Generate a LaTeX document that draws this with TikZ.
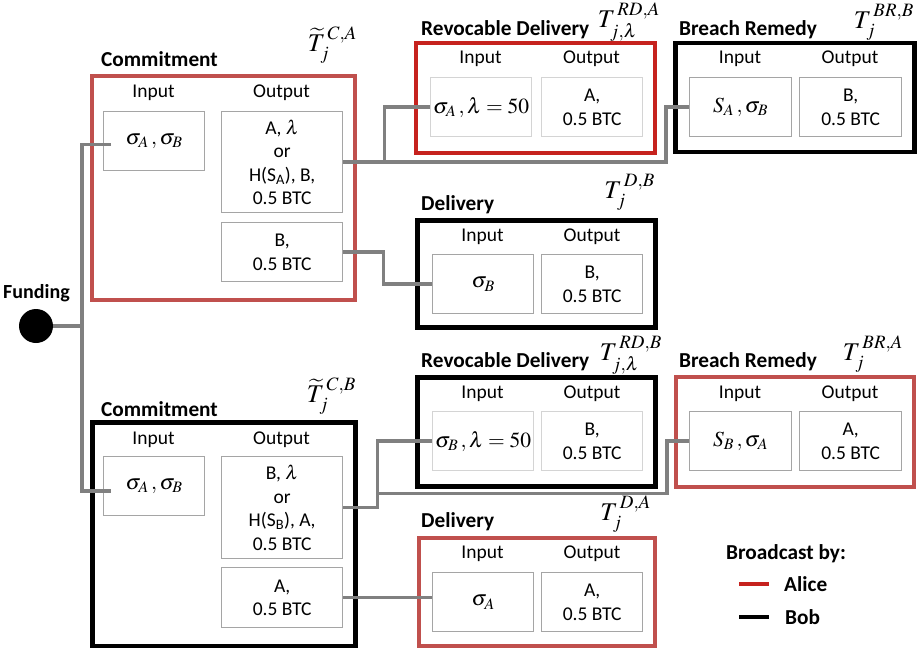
\documentclass[tikz,border=0pt]{standalone}
\usepackage{mathptmx}
\usepackage[no-math]{fontspec}
\setmainfont{Carlito}
\usetikzlibrary{calc}
\definecolor{redA}{RGB}{198,34,30}
\definecolor{redB}{RGB}{192,80,77}
\definecolor{boxgray}{RGB}{165,165,165}
\definecolor{lightbox}{RGB}{212,212,212}
\definecolor{conngray}{RGB}{128,128,128}
\tikzset{
  outer/.style={draw, line width=4pt, inner sep=0pt, anchor=north west},
  blk/.style={draw=black, line width=4.5pt},
  inbox/.style={draw=boxgray, line width=1.3pt, inner sep=0pt, anchor=north west,
    minimum width=101pt, minimum height=59pt, align=center,
    font=\fontsize{19.5}{23.5}\selectfont},
  ltbox/.style={inbox, draw=lightbox},
  mathin/.style={font=\fontsize{21.5}{25}\selectfont},
  hdr/.style={anchor=base, inner sep=0pt, font=\fontsize{19.5}{23.5}\selectfont},
  ttl/.style={anchor=base west, inner sep=0pt, font=\bfseries\fontsize{21.3}{25}\selectfont},
  tlab/.style={anchor=east, inner sep=0pt, font=\fontsize{25.5}{29}\selectfont},
  conn/.style={draw=conngray, line width=3.5pt},
  legline/.style={line width=4pt},
}
\begin{document}
\begin{tikzpicture}[x=1pt,y=-1pt]
\useasboundingbox (0,0) rectangle (917,647);

% ---------- Funding ----------
\node[circle, fill=black, minimum size=34pt, inner sep=0pt] (fund) at (36,326) {};
\node[ttl, anchor=base, font=\bfseries\fontsize{20}{24}\selectfont] (fundl) at (36.5,298) {Funding};

% ---------- Commitment (Alice) ----------
\node[outer, draw=redB, minimum width=263pt, minimum height=224pt] (cA) at (90,74) {};
\node[ttl] (cAt) at (101,67) {Commitment};
\node[tlab] (tCA) at (357,45) {$\widetilde{T}_j^{\,C,A}$};
\node[hdr] (cAhi) at (153.5,98) {Input};
\node[hdr] (cAho) at (281.5,98) {Output};
\node[inbox, mathin] (cAin) at (103,111) {$\sigma_{A}\,,\sigma_{B}$};
\node[inbox, minimum width=121pt, minimum height=101pt] (cAo1) at (221,111)
  {A, $\lambda$\\or\\H(S\textsubscript{A}), B,\\0.5 BTC};
\node[inbox, minimum width=121pt, minimum height=59pt] (cAo2) at (221,222) {B,\\0.5 BTC};

% ---------- Commitment (Bob) ----------
\node[outer, blk, minimum width=263pt, minimum height=224pt] (cB) at (90,420) {};
\node[ttl] (cBt) at (101,416) {Commitment};
\node[tlab] (tCB) at (356,396) {$\widetilde{T}_j^{\,C,B}$};
\node[hdr] (cBhi) at (153.5,444) {Input};
\node[hdr] (cBho) at (281.5,444) {Output};
\node[inbox, mathin] (cBin) at (103,456) {$\sigma_{A}\,,\sigma_{B}$};
\node[inbox, minimum width=121pt, minimum height=102pt] (cBo1) at (221,456)
  {B, $\lambda$\\or\\H(S\textsubscript{B}), A,\\0.5 BTC};
\node[inbox, minimum width=121pt, minimum height=60pt] (cBo2) at (221,567) {A,\\0.5 BTC};

% ---------- Revocable Delivery (Alice) ----------
\node[outer, draw=redA, minimum width=239pt, minimum height=110pt] (rdA) at (414,41) {};
\node[ttl] (rdAt) at (421,36) {Revocable Delivery};
\node[tlab] (tRDA) at (660,22) {$T_{j,\lambda}^{\,RD,A}$};
\node[hdr] (rdAhi) at (480.5,64) {Input};
\node[hdr] (rdAho) at (591.5,64) {Output};
\node[ltbox, mathin] (rdAin) at (430,77) {$\sigma_{A}\,,\lambda=50$};
\node[ltbox] (rdAout) at (541,77) {A,\\0.5 BTC};

% ---------- Breach Remedy (Bob) ----------
\node[outer, blk, minimum width=239pt, minimum height=109pt] (brB) at (673,41) {};
\node[ttl] (brBt) at (679,36) {Breach Remedy};
\node[tlab] (tBRB) at (914,22) {$T_j^{\,BR,B}$};
\node[hdr] (brBhi) at (740,64) {Input};
\node[hdr] (brBho) at (850,64) {Output};
\node[inbox, mathin, minimum width=102pt] (brBin) at (689,77) {$S_{A}\,,\sigma_{B}$};
\node[inbox, minimum width=102pt] (brBout) at (799,77) {B,\\0.5 BTC};

% ---------- Delivery (Bob) ----------
\node[outer, blk, minimum width=238pt, minimum height=107pt] (dB) at (415,218) {};
\node[ttl] (dBt) at (421,210) {Delivery};
\node[tlab] (tDB) at (655,192) {$T_j^{\,D,B}$};
\node[hdr] (dBhi) at (482.5,241) {Input};
\node[hdr] (dBho) at (592,241) {Output};
\node[inbox, mathin] (dBin) at (432,254) {$\sigma_{B}$};
\node[inbox] (dBout) at (541,254) {B,\\0.5 BTC};

% ---------- Revocable Delivery (Bob) ----------
\node[outer, blk, minimum width=238pt, minimum height=109pt] (rdB) at (415,375) {};
\node[ttl] (rdBt) at (421,367) {Revocable Delivery};
\node[tlab] (tRDB) at (662,355) {$T_{j,\lambda}^{\,RD,B}$};
\node[hdr] (rdBhi) at (482.5,398.5) {Input};
\node[hdr] (rdBho) at (592,398.5) {Output};
\node[ltbox, mathin] (rdBin) at (432,411) {$\sigma_{B}\,,\lambda=50$};
\node[ltbox] (rdBout) at (541,411) {B,\\0.5 BTC};

% ---------- Breach Remedy (Alice) ----------
\node[outer, draw=redB, minimum width=238pt, minimum height=110pt] (brA) at (674,375) {};
\node[ttl] (brAt) at (679,367) {Breach Remedy};
\node[tlab] (tBRA) at (903,354) {$T_j^{\,BR,A}$};
\node[hdr] (brAhi) at (740,398.5) {Input};
\node[hdr] (brAho) at (850,398.5) {Output};
\node[inbox, mathin, minimum width=102pt] (brAin) at (689,411) {$S_{B}\,,\sigma_{A}$};
\node[inbox, minimum width=102pt] (brAout) at (799,411) {A,\\0.5 BTC};

% ---------- Delivery (Alice) ----------
\node[outer, draw=redB, minimum width=236pt, minimum height=108pt] (dA) at (417,536) {};
\node[ttl] (dAt) at (421,527) {Delivery};
\node[tlab] (tDA) at (651,514) {$T_j^{\,D,A}$};
\node[hdr] (dAhi) at (482.5,558.5) {Input};
\node[hdr] (dAho) at (592,558.5) {Output};
\node[inbox, mathin] (dAin) at (432,572) {$\sigma_{A}$};
\node[inbox] (dAout) at (541,572) {A,\\0.5 BTC};

% ---------- Connectors ----------
\coordinate (jc) at (82,326);
\draw[conn] (fund) -- (jc);
\draw[conn] ([xshift=8pt,yshift=-3.5pt]cAin.west) -| (jc) |- ([xshift=8pt,yshift=-5pt]cBin.west);
\draw[conn] (cAo1.east) -| ([xshift=-23pt]brBin.west) -- (brBin.west);
\draw[conn] ([xshift=41pt]cAo1.east) |- (rdAin.west);
\draw[conn] (cAo2.east) -- ++(40,0) |- (dBin.west);
\draw[conn] (cBo1.east) -- ++(34,0) |- (rdBin.west);
\draw[conn] ([xshift=34pt,yshift=14pt]cBo1.east) -| ([xshift=-22pt]brAin.west) -- (brAin.west);
\draw[conn] (cBo2.east) -- (cBo2.east -| dAin.west);

% ---------- Legend ----------
\node[ttl] (lgT) at (726,559) {Broadcast by:};
\node[ttl] (lgA) at (784,591.5) {Alice};
\node[ttl] (lgB) at (785,624) {Bob};
\draw[legline, redA] ([xshift=-45pt]lgA.west) -- ++(30,0);
\draw[legline, black] ([xshift=-46pt]lgB.west) -- ++(30,0);
\end{tikzpicture}
\end{document}
